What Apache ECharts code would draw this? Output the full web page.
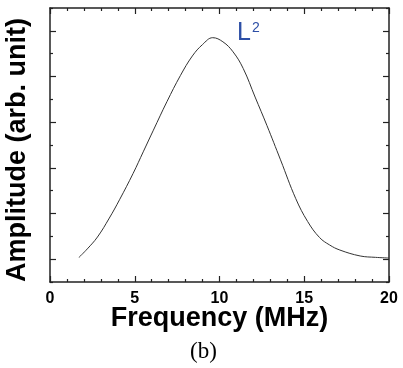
<!DOCTYPE html>
<html>
<head>
<meta charset="utf-8">
<script src="https://cdn.jsdelivr.net/npm/echarts@6/dist/echarts.min.js"></script>
<style>html,body{margin:0;padding:0;background:#fff;}#c{width:403px;height:368px;}</style>
</head>
<body>
<div id="c"></div>
<script>
const freq = [1.7, 2.2, 2.8, 3.5, 4.1, 4.9, 5.5, 6.1, 6.9, 7.7, 8.4, 9.0, 9.6, 10.2, 10.8, 11.4, 12.1, 12.8, 13.6, 14.5, 15.2, 15.9, 16.5, 17.1, 18.3, 19.2, 20.0];
const amp = [1.07, 1.45, 1.97, 2.8, 3.6, 4.75, 5.7, 6.65, 7.9, 9.05, 9.9, 10.4, 10.7, 10.52, 10.08, 9.35, 8.1, 6.85, 5.35, 3.65, 2.65, 1.95, 1.62, 1.4, 1.14, 1.08, 1.05];
const xTicks = [0, 5, 10, 15, 20];
const xTitle = 'Frequency (MHz)';
const yTitle = 'Amplitude (arb. unit)';
const caption = '(b)';
const seriesLabel = 'L';
const seriesLabelSup = '2';

const chart = echarts.init(document.getElementById('c'), null, {renderer: 'canvas'});
const axisCol = '#222';
const sans = 'Liberation Sans';
const common = {
  axisLine: {show: true, onZero: false, lineStyle: {color: axisCol, width: 1.5}},
  splitLine: {show: false}
};
chart.setOption({
  animation: false,
  grid: {left: 50, right: 14, top: 8, bottom: 86},
  xAxis: [
    Object.assign({}, common, {
      type: 'value', min: xTicks[0], max: xTicks[xTicks.length - 1], interval: 5, position: 'bottom',
      axisTick: {show: true, inside: true, length: 6, lineStyle: {color: axisCol, width: 1.2}},
      minorTick: {show: true, splitNumber: 5, length: 3, lineStyle: {color: axisCol, width: 1.2}},
      axisLabel: {show: true, margin: 9, fontFamily: sans, fontWeight: 'bold', fontSize: 16, color: '#000'},
      name: xTitle, nameLocation: 'middle', nameGap: 23, nameMoveOverlap: false,
      nameTextStyle: {fontFamily: sans, fontWeight: 'bold', fontSize: 27, color: '#000'}
    }),
    Object.assign({}, common, {
      type: 'value', min: 0, max: 20, interval: 5, position: 'top',
      axisTick: {show: true, inside: true, length: 6, lineStyle: {color: axisCol, width: 1.2}},
      minorTick: {show: true, splitNumber: 5, length: 3, lineStyle: {color: axisCol, width: 1.2}},
      axisLabel: {show: false}
    })
  ],
  yAxis: [
    Object.assign({}, common, {
      type: 'value', min: 0, max: 12, interval: 2, position: 'left',
      axisTick: {show: true, inside: true, length: 3, lineStyle: {color: axisCol, width: 1.2}},
      minorTick: {show: true, splitNumber: 2, length: 6, lineStyle: {color: axisCol, width: 1.2}},
      axisLabel: {show: false}
    }),
    Object.assign({}, common, {
      type: 'value', min: 0, max: 12, interval: 2, position: 'right',
      axisTick: {show: true, inside: true, length: 3, lineStyle: {color: axisCol, width: 1.2}},
      minorTick: {show: true, splitNumber: 2, length: 6, lineStyle: {color: axisCol, width: 1.2}},
      axisLabel: {show: false}
    })
  ],
  series: [{
    type: 'line',
    data: freq.map((f, i) => [f, amp[i]]),
    smooth: 0.4,
    showSymbol: false,
    lineStyle: {color: '#333', width: 1}
  }],
  graphic: [
    {type: 'text', x: 18, y: 150, rotation: Math.PI / 2,
      style: {text: yTitle, fontFamily: sans, fontWeight: 'bold', fontSize: 27, fill: '#000', align: 'center', verticalAlign: 'middle'}},
    {type: 'text', left: 237, top: 21, style: {text: seriesLabel, fontFamily: sans, fontSize: 25, fill: '#2d4fa6'}},
    {type: 'text', left: 252, top: 21, style: {text: seriesLabelSup, fontFamily: sans, fontSize: 14, fill: '#2d4fa6'}},
    {type: 'text', left: 190, top: 340, style: {text: caption, fontFamily: 'Liberation Serif', fontSize: 23, fill: '#000'}}
  ]
});
</script>
</body>
</html>
